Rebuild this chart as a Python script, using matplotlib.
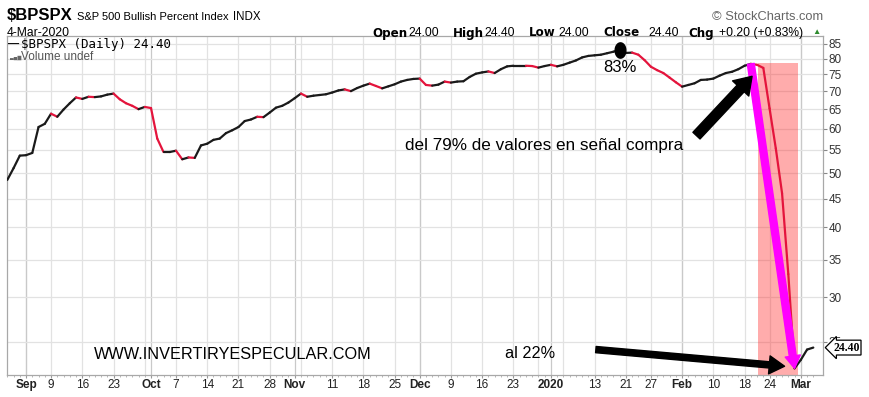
import numpy as np
import pandas as pd
import matplotlib
matplotlib.use('Agg')
import matplotlib.pyplot as plt
import matplotlib.transforms as mtransforms
from matplotlib.collections import LineCollection
from matplotlib.patches import Rectangle

plt.rcParams['font.family'] = ['Liberation Sans', 'DejaVu Sans']

# trading days shown on the chart
holidays = ['2019-09-02', '2019-11-28', '2019-12-25', '2020-01-01', '2020-01-20', '2020-02-17']
dates = pd.bdate_range('2019-08-28', '2020-03-04').drop(pd.to_datetime(holidays))

# S&P 500 Bullish Percent Index, daily close
bpi = [48.6, 51.0, 53.7, 53.8, 54.3, 60.4, 61.2, 63.8, 63.0, 64.9,
       66.6, 68.2, 67.8, 68.4, 68.3, 68.5, 69.0, 69.3, 67.7, 66.6,
       65.9, 65.0, 65.6, 65.3, 57.6, 54.5, 54.5, 54.8, 52.9, 53.3,
       53.2, 56.0, 56.4, 57.3, 57.6, 58.9, 59.6, 60.4, 61.9, 62.3,
       63.0, 62.9, 64.1, 65.4, 65.9, 66.8, 68.0, 69.3, 68.4, 68.7,
       68.9, 69.1, 69.6, 70.2, 70.5, 70.0, 70.9, 71.6, 72.2, 71.5,
       70.8, 71.4, 72.0, 72.8, 73.3, 73.6, 73.7, 71.8, 71.6, 71.9,
       72.8, 72.5, 72.8, 72.9, 74.2, 75.2, 75.6, 75.9, 75.4, 76.6,
       77.5, 77.7, 77.7, 77.7, 77.6, 77.1, 77.6, 78.0, 77.5, 78.0,
       78.7, 79.4, 80.4, 80.9, 81.1, 81.3, 81.8, 82.3, 83.0, 81.9,
       82.0, 81.3, 79.5, 77.4, 76.3, 75.4, 74.0, 72.6, 71.3, 71.8,
       72.3, 73.3, 73.4, 73.7, 74.6, 75.4, 75.8, 76.6, 77.7, 78.3,
       78.0, 77.0, 65.2, 55.3, 46.0, 33.0, 22.4, 23.2, 24.2, 24.4]

tick_dates = ['2019-09-03', '2019-09-09', '2019-09-16', '2019-09-23', '2019-10-01',
              '2019-10-07', '2019-10-14', '2019-10-21', '2019-10-28', '2019-11-01',
              '2019-11-11', '2019-11-18', '2019-11-25', '2019-12-02', '2019-12-09',
              '2019-12-16', '2019-12-23', '2020-01-02', '2020-01-13', '2020-01-21',
              '2020-01-27', '2020-02-03', '2020-02-10', '2020-02-18', '2020-02-24',
              '2020-03-02']
tick_labels = ['Sep', '9', '16', '23', 'Oct', '7', '14', '21', '28', 'Nov', '11', '18', '25',
               'Dec', '9', '16', '23', '2020', '13', '21', '27', 'Feb', '10', '18', '24', 'Mar']
y_ticks = [25, 30, 35, 40, 45, 50, 55, 60, 65, 70, 75, 80, 85]

# shaded crash zone
crash_start, crash_end, crash_top = 120.2, 126.6, 78.5

x = np.arange(len(bpi))
y = np.array(bpi)

fig = plt.figure(figsize=(8.7, 3.97), dpi=100)
ax = fig.add_axes([7.3 / 870, 1 - 375 / 397, 816 / 870, 339 / 397])
ax.set_yscale('log')
ax.set_ylim(21.8, 87.8)
ax.set_xlim(0, 130.6)

# grid: weekly and monthly lines
wk = dates.isocalendar().week.values
week_starts = [i for i in range(1, len(dates)) if wk[i] != wk[i - 1]]
month_starts = [i for i in range(1, len(dates)) if dates[i].month != dates[i - 1].month]
for i in week_starts:
    ax.axvline(i, color='#e2e2e2', lw=0.9, zorder=0)
for i in month_starts:
    ax.axvline(i, color='#c9c9c9', lw=0.9, zorder=0)
for v in y_ticks:
    ax.axhline(v, color='#e2e2e2', lw=0.9, zorder=0)

# red shaded zone
ax.add_patch(Rectangle((crash_start, 20), crash_end - crash_start, crash_top - 20,
                       color='#ff3030', alpha=0.4, lw=0, zorder=1))

# price line, red on down days
pts = np.column_stack([x, y])
segs = np.stack([pts[:-1], pts[1:]], axis=1)
cols = ['#e4143c' if y[i + 1] < y[i] else '#1a1a1a' for i in range(len(y) - 1)]
ax.add_collection(LineCollection(segs, colors=cols, linewidths=1.6, zorder=3,
                                 capstyle='round', joinstyle='round'))

# axes styling
ax.yaxis.tick_right()
ax.set_yticks(y_ticks)
ax.yaxis.set_minor_locator(matplotlib.ticker.NullLocator())
ax.set_yticklabels([str(v) for v in y_ticks])
ax.tick_params(axis='y', which='major', length=3, color='#888888', labelsize=8.5,
               labelcolor='#333333', pad=1)
pos = dates.get_indexer(pd.to_datetime(tick_dates))
ax.set_xticks(pos)
ax.set_xticklabels(tick_labels)
ax.set_xticks(x, minor=True)
ax.tick_params(axis='x', which='major', length=2, color='#999999', labelsize=8.5,
               labelcolor='#222222', pad=1)
ax.tick_params(axis='x', which='minor', length=1.5, color='#aaaaaa', width=0.6)
for t in ax.get_xticklabels():
    if not t.get_text().isdigit() or t.get_text() == '2020':
        t.set_fontweight('bold')
for s in ax.spines.values():
    s.set_color('#a8a8a8')
    s.set_linewidth(0.9)

# peak marker and labels
ipk = int(np.argmax(y))
ellipse = [(0.7 * np.cos(t), np.sin(t)) for t in np.linspace(0, 2 * np.pi, 40)]
ax.plot([ipk], [y[ipk]], marker=ellipse, ms=11, mfc='black', mec='black', zorder=5)
ax.text(ipk, 77.0, '83%', ha='center', va='center', fontsize=12, zorder=6)

ilow = int(np.argmin(y))
itop = 119
ax.annotate('', xy=(ilow, y[ilow]), xytext=(itop, y[itop]),
            arrowprops=dict(arrowstyle='simple,head_length=0.9,head_width=1.1,tail_width=0.5',
                            color='#ff00ff', mutation_scale=10, shrinkA=0, shrinkB=0),
            zorder=6)
ax.annotate('', xy=(119.2, 74.4), xytext=(110.3, 58.3),
            arrowprops=dict(arrowstyle='simple,head_length=1.2,head_width=1.6,tail_width=0.7',
                            color='black', mutation_scale=10, shrinkA=0, shrinkB=0),
            zorder=6)
ax.annotate('', xy=(124.4, 22.6), xytext=(94.2, 24.2),
            arrowprops=dict(arrowstyle='simple,head_length=1.1,head_width=1.3,tail_width=0.45',
                            color='black', mutation_scale=10, shrinkA=0, shrinkB=0),
            zorder=6)

ax.text(63.6, 56.0, 'del 79% de valores en señal compra', fontsize=12.3, va='center', zorder=6)
ax.text(13.8, 23.7, 'WWW.INVERTIRYESPECULAR.COM', fontsize=11.7, va='center', zorder=6)
ax.text(79.7, 23.8, 'al 22%', fontsize=11.7, va='center', zorder=6)

# last price tag
tr = mtransforms.blended_transform_factory(ax.transAxes, ax.transData)
ax.text(1.012, y[-1], '24.40', transform=tr, fontsize=8.5, fontweight='bold',
        va='center', ha='left', family='Liberation Serif', zorder=7, clip_on=False,
        bbox=dict(boxstyle='larrow,pad=0.12', fc='white', ec='black', lw=0.9))

# legend inside plot
ax.text(0.001, 0.975, '\u2014', transform=ax.transAxes, fontsize=8, fontweight='bold',
        va='center', ha='left')
ax.text(0.0168, 0.975, '\\$BPSPX (Daily) 24.40', transform=ax.transAxes, fontsize=9,
        family='DejaVu Sans Mono', va='center', ha='left')
ax.text(0.003, 0.937, '\u2583\u2585\u2587', transform=ax.transAxes, fontsize=3.5,
        family='DejaVu Sans', color='#666666', va='center', ha='left')
ax.text(0.0168, 0.937, 'Volume undef', transform=ax.transAxes, fontsize=8.5,
        color='#555555', va='center', ha='left')

# header
def px(xp, yp):
    return xp / 870, 1 - yp / 397

fig.text(*px(7, 16), '\\$BPSPX', fontsize=12, fontweight='bold', va='center')
fig.text(*px(77, 16.5), 'S&P 500 Bullish Percent Index', fontsize=8, va='center')
fig.text(*px(233, 16.5), 'INDX', fontsize=8.3, va='center')
fig.text(*px(7, 33), '4-Mar-2020', fontsize=8.7, va='center')
fig.text(*px(712, 17), '\u00a9 StockCharts.com', fontsize=9.3, color='#666666', va='center')
header = [(372, 'Open', True), (408, '24.00', False), (453, 'High', True), (484, '24.40', False),
          (529, 'Low', True), (558, '24.00', False), (603, 'Close', True), (648, '24.40', False),
          (688, 'Chg', True), (719, '+0.20 (+0.83%)', False)]
for xp, s, b in header:
    if b:
        fig.text(*px(xp, 33), s, fontsize=8.6, fontweight='bold', family='DejaVu Sans',
                 va='center')
    else:
        fig.text(*px(xp, 33), s, fontsize=8.7, va='center')
fig.text(*px(812, 32), '\u25b2', fontsize=6, color='#2e8b2e', va='center')

fig.savefig('out.png', dpi=100)
